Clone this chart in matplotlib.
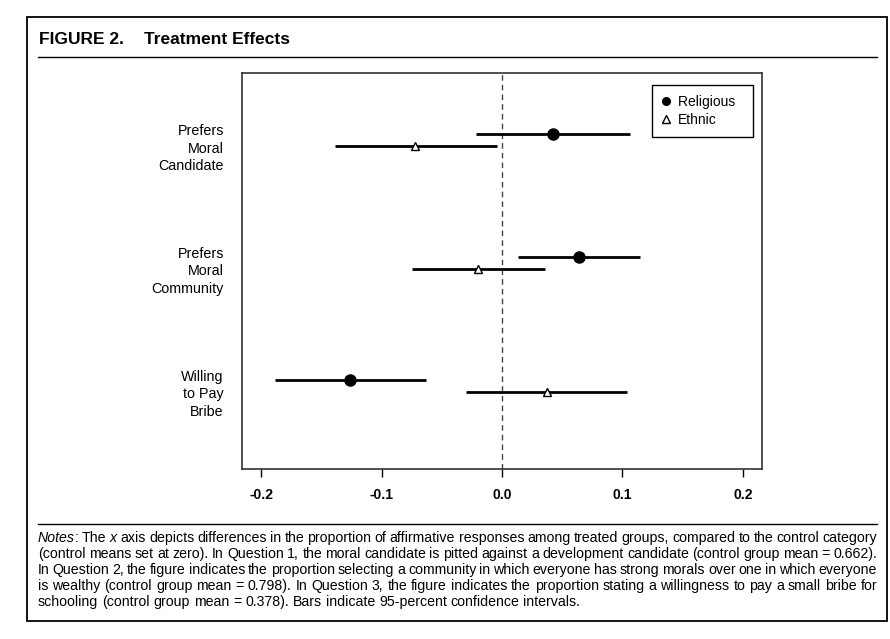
import matplotlib
matplotlib.use("Agg")
import matplotlib.pyplot as plt
from matplotlib.lines import Line2D
from matplotlib.patches import Rectangle
import matplotlib.transforms as mtransforms

plt.rcParams['font.family'] = ['Liberation Sans', 'DejaVu Sans']

# data
questions = ["Prefers\nMoral\nCandidate", "Prefers\nMoral\nCommunity", "Willing\nto Pay\nBribe"]
religious_est = [0.042, 0.064, -0.126]
religious_lo = [-0.022, 0.013, -0.189]
religious_hi = [0.106, 0.115, -0.063]
ethnic_est = [-0.072, -0.020, 0.037]
ethnic_lo = [-0.139, -0.075, -0.030]
ethnic_hi = [-0.004, 0.036, 0.104]
xticks = [-0.2, -0.1, 0.0, 0.1, 0.2]
xtick_labels = ["-0.2", "-0.1", "0.0", "0.1", "0.2"]

notes_lines = [
    [[("Notes", "italic"), (":", "normal")], "The", [("x", "italic")], "axis depicts differences in the proportion of affirmative responses among treated groups, compared to the control category"],
    ["(control means set at zero). In Question 1, the moral candidate is pitted against a development candidate (control group mean = 0.662)."],
    ["In Question 2, the figure indicates the proportion selecting a community in which everyone has strong morals over one in which everyone"],
    ["is wealthy (control group mean = 0.798). In Question 3, the figure indicates the proportion stating a willingness to pay a small bribe for"],
    ["schooling (control group mean = 0.378). Bars indicate 95-percent confidence intervals."],
]

W, H = 890, 639
fig = plt.figure(figsize=(W / 100, H / 100), dpi=100)
ax = fig.add_axes([242 / W, 1 - 469 / H, 520 / W, 396 / H])

y_rel = [3, 2, 1]
y_eth = [y - 0.1 for y in y_rel]

ax.axvline(0, color='#444444', lw=1, ls=(0, (4, 3)), zorder=1)
ax.hlines(y_rel, religious_lo, religious_hi, color='black', lw=2, zorder=2)
ax.hlines(y_eth, ethnic_lo, ethnic_hi, color='black', lw=2, zorder=2)
ax.plot(religious_est, y_rel, 'o', color='black', ms=8, zorder=3)
ax.plot(ethnic_est, y_eth, '^', mfc='white', mec='black', mew=1, ms=6, zorder=3)

ax.set_xlim(-0.216, 0.216)
ax.set_ylim(0.276, 3.496)
ax.set_yticks([])
ax.set_xticks(xticks)
ax.set_xticklabels(xtick_labels, fontweight='bold', fontsize=10)
ax.tick_params(axis='x', length=6, width=1, pad=8)
for sp in ax.spines.values():
    sp.set_color('#333333')
    sp.set_linewidth(1.2)

trans = mtransforms.blended_transform_factory(ax.transAxes, ax.transData)
for q, y in zip(questions, y_eth):
    ax.text(-0.035, y - 0.018, q, transform=trans, ha='right', va='center',
            fontsize=10.3, linespacing=1.35)

handles = [Line2D([], [], ls='none', marker='o', color='black', ms=5.5),
           Line2D([], [], ls='none', marker='^', mfc='white', mec='black', ms=5.5)]
leg = ax.legend(handles, ["Religious  ", "Ethnic"], loc='upper right',
                bbox_to_anchor=(0.983, 0.970), borderaxespad=0, fancybox=False,
                framealpha=1, edgecolor='black', fontsize=10, handlelength=0.5,
                handletextpad=0.6, borderpad=0.75, labelspacing=0.25)
leg.get_frame().set_linewidth(1)

# outer frame, title and rules
fig.patches.append(Rectangle((27 / W, 1 - 621 / H), 860 / W, 604 / H,
                             transform=fig.transFigure, fill=False, lw=1.3, ec='black'))
fig.add_artist(Line2D([38 / W, 877 / W], [1 - 57 / H] * 2, color='black', lw=1))
fig.add_artist(Line2D([38 / W, 877 / W], [1 - 524 / H] * 2, color='black', lw=1))
fig.text(39 / W, 1 - 39 / H, "FIGURE 2.", fontsize=12.5, fontweight='bold', va='center')
fig.text(144 / W, 1 - 39 / H, "Treatment Effects", fontsize=12.5, fontweight='bold', va='center')

# justified notes
fig.canvas.draw()
renderer = fig.canvas.get_renderer()
note_size = 10.2


def piece_width(s, style):
    t = fig.text(0, 0, s, fontsize=note_size, style=style)
    w = t.get_window_extent(renderer).width
    t.remove()
    return w


def split_words(line):
    words = []
    for item in line:
        if isinstance(item, str):
            words += [[(w, "normal")] for w in item.split()]
        else:
            words.append(item)
    return words


x0, x1 = 38, 877
space = piece_width("a a", "normal") - 2 * piece_width("a", "normal")
for i, line in enumerate(notes_lines):
    words = split_words(line)
    widths = [[piece_width(s, st) for s, st in w] for w in words]
    total = sum(sum(w) for w in widths)
    last = i == len(notes_lines) - 1
    gap = space if last else (x1 - x0 - total) / (len(words) - 1)
    x = x0
    yb = 1 - (542 + 16 * i) / H
    for word, ws in zip(words, widths):
        for (s, st), w in zip(word, ws):
            fig.text(x / W, yb, s, fontsize=note_size, style=st, va='baseline')
            x += w
        x += gap

fig.savefig("out.png", dpi=100)
